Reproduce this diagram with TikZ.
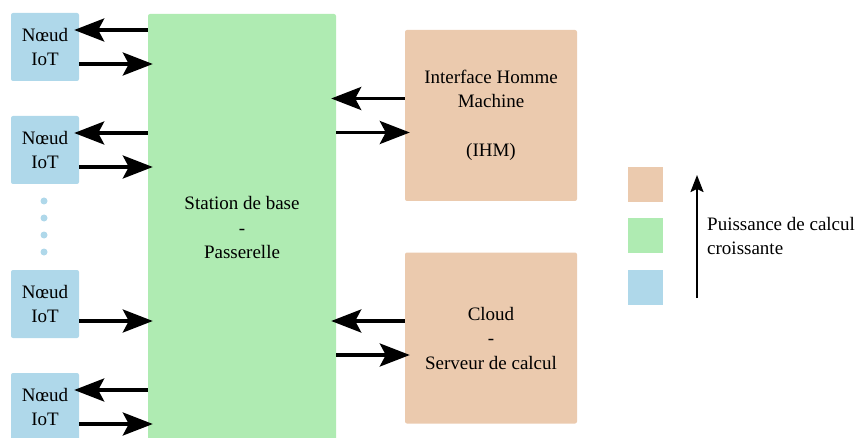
\documentclass[tikz,border=0pt]{standalone}
\usepackage{fontspec}
\setmainfont{Liberation Serif}
\usetikzlibrary{arrows.meta}
\definecolor{iotblue}{RGB}{175,216,234}
\definecolor{basegreen}{RGB}{175,235,178}
\definecolor{calcbeige}{RGB}{235,202,174}
\begin{document}
\begin{tikzpicture}[x=1pt,y=-1pt,
    every node/.style={font=\fontsize{19}{24.5}\selectfont, align=center},
    box/.style={rounded corners=2pt, inner sep=0pt},
    iot/.style={box, fill=iotblue, minimum width=68pt, minimum height=68pt},
    calc/.style={box, fill=calcbeige, minimum width=172pt, minimum height=171pt},
    legbox/.style={fill=#1, minimum size=35pt, inner sep=0pt},
    link/.style={line width=3.4pt, -{Stealth[length=30pt,width=23pt,inset=6pt]},
        shorten >=-5pt}]
    \useasboundingbox (0,0) rectangle (858,438);

    % noeuds IoT
    \node[iot] (n1) at (45,47)  {Nœud\\IoT};
    \node[iot] (n2) at (45,150) {Nœud\\IoT};
    \node[iot] (n3) at (45,304) {Nœud\\IoT};
    \node[iot] (n4) at (45,407) {Nœud\\IoT};
    \foreach \y in {201,218,235,252}
        \fill[iotblue] (44,\y) circle (3.5pt);

    % passerelle
    \node[box, fill=basegreen, minimum width=188pt, minimum height=428pt]
        (st) at (242,228) {Station de base\\-\\Passerelle};

    % IHM et cloud
    \node[calc] (ihm) at (491,115.5) {Interface Homme\\Machine\\~\\(IHM)};
    \node[calc] (cloud) at (491,338) {Cloud\\-\\Serveur de calcul};

    % liaisons
    \foreach \n in {n1,n2,n4}
        \draw[link] ([yshift=17pt]\n.east -| st.west) -- ([yshift=17pt]\n.east);
    \foreach \n in {n1,n2,n3,n4}
        \draw[link] ([yshift=-17pt]\n.east) -- ([yshift=-17pt]\n.east -| st.west);
    \foreach \n in {ihm,cloud} {
        \draw[link] ([yshift=17pt]\n.west) -- ([yshift=17pt]\n.west -| st.east);
        \draw[link] ([yshift=-17pt]\n.west -| st.east) -- ([yshift=-17pt]\n.west);
    }

    % legende
    \node[legbox=calcbeige] (leg1) at (645.5,184.5) {};
    \node[legbox=basegreen] (leg2) at (645.5,235.5) {};
    \node[legbox=iotblue]   (leg3) at (645.5,287.5) {};
    \coordinate (up0) at (697,298);
    \coordinate (up1) at (697,175);
    \draw[line width=2pt, -{Stealth[length=17pt,width=13pt,inset=3pt]}] (up0) -- (up1);
    \node[anchor=west, align=left, inner sep=0pt] (legtxt) at (707,236)
        {Puissance de calcul\\croissante};
\end{tikzpicture}
\end{document}
